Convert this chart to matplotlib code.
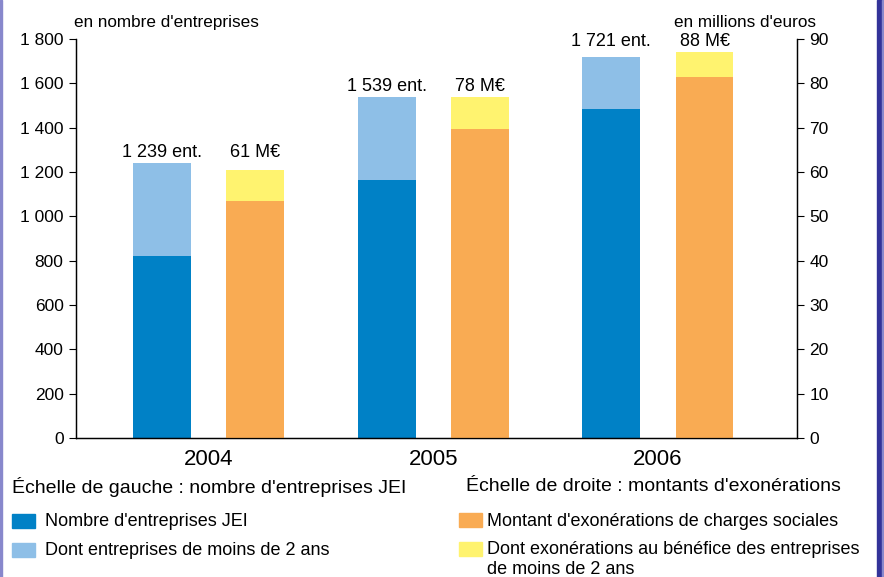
import matplotlib.pyplot as plt
from matplotlib.patches import Rectangle
from matplotlib.ticker import FuncFormatter

plt.rcParams['font.family'] = ['Liberation Sans', 'DejaVu Sans']

years = ['2004', '2005', '2006']
# left scale: number of JEI companies
jei_total = [1239, 1539, 1721]
jei_older = [821, 1164, 1484]       # dark blue part
# right scale: exemptions in M euros
exo_total = [60.5, 77, 87]
exo_social = [53.5, 69.7, 81.5]     # orange part
label_meur = [61, 78, 88]

c_dark = '#0081c6'
c_light = '#8ebfe7'
c_orange = '#f9ab53'
c_yellow = '#fff36f'

fig = plt.figure(figsize=(8.84, 5.77), dpi=100)
ax = fig.add_axes([0.086, 0.2409, 0.8156, 0.6915])
ax2 = ax.twinx()

x = list(range(len(years)))
off = 0.208
w = 0.258
xb = [i - off for i in x]
xo = [i + off for i in x]

ax.bar(xb, jei_older, w, color=c_dark)
ax.bar(xb, [t - o for t, o in zip(jei_total, jei_older)], w, bottom=jei_older, color=c_light)
ax2.bar(xo, exo_social, w, color=c_orange)
ax2.bar(xo, [t - s for t, s in zip(exo_total, exo_social)], w, bottom=exo_social, color=c_yellow)

ax.set_ylim(0, 1800)
ax2.set_ylim(0, 90)
ax.set_xlim(-0.591, 2.62)
ax.set_yticks(range(0, 1801, 200))
ax2.set_yticks(range(0, 91, 10))
ax.yaxis.set_major_formatter(FuncFormatter(lambda v, p: f'{int(v):,}'.replace(',', ' ')))
ax.set_xticks(x)
ax.set_xticklabels(years, fontsize=16)
ax.tick_params(axis='x', length=0, pad=8)
ax.tick_params(axis='y', labelsize=12.5, length=5, width=0.8, pad=4)
ax2.tick_params(axis='y', labelsize=12.5, length=5, width=0.8, pad=4)

for a in (ax, ax2):
    a.spines['top'].set_visible(False)
    for s in a.spines.values():
        s.set_linewidth(0.9)

# value labels, both placed above the taller bar of each year
for i in x:
    top = max(jei_total[i], exo_total[i] * 20)
    ax.annotate(f'{jei_total[i]:,} ent.'.replace(',', ' '), (xb[i], top), xytext=(0, 1.5),
                textcoords='offset points', ha='center', va='bottom', fontsize=13)
    ax.annotate(f'{label_meur[i]} M€', (xo[i], top), xytext=(0, 1.5),
                textcoords='offset points', ha='center', va='bottom', fontsize=13)

fig.text(0.0837, 0.961, "en nombre d'entreprises", fontsize=12.3, va='center')
fig.text(0.762, 0.961, "en millions d'euros", fontsize=12.3, va='center')

# legend
fig.text(0.0136, 0.156, "Échelle de gauche : nombre d'entreprises JEI", fontsize=14, va='center')
fig.text(0.527, 0.156, "Échelle de droite : montants d'exonérations", fontsize=14, va='center')
items = [
    (0.0136, 0.0849, c_dark, "Nombre d'entreprises JEI", 0.051, 0.0884),
    (0.0136, 0.0347, c_light, "Dont entreprises de moins de 2 ans", 0.051, 0.0381),
    (0.519, 0.0867, c_orange, "Montant d'exonérations de charges sociales", 0.551, 0.0884),
    (0.519, 0.0364, c_yellow, "Dont exonérations au bénéfice des entreprises\nde moins de 2 ans", 0.551, 0.005),
]
for sx, sy, col, txt, tx, ty in items:
    fig.patches.append(Rectangle((sx, sy), 0.026, 0.0243, color=col, transform=fig.transFigure))
    fig.text(tx, ty, txt, fontsize=13, va='baseline', linespacing=1.25)

# frame
fig.patches.append(Rectangle((0, 0), 0.002, 1, color='#8888cc', transform=fig.transFigure))
fig.patches.append(Rectangle((0.992, 0), 0.006, 1, color='#333399', transform=fig.transFigure))
fig.patches.append(Rectangle((0.998, 0), 0.002, 1, color='#8888cc', transform=fig.transFigure))

fig.savefig('out.png', dpi=100)
